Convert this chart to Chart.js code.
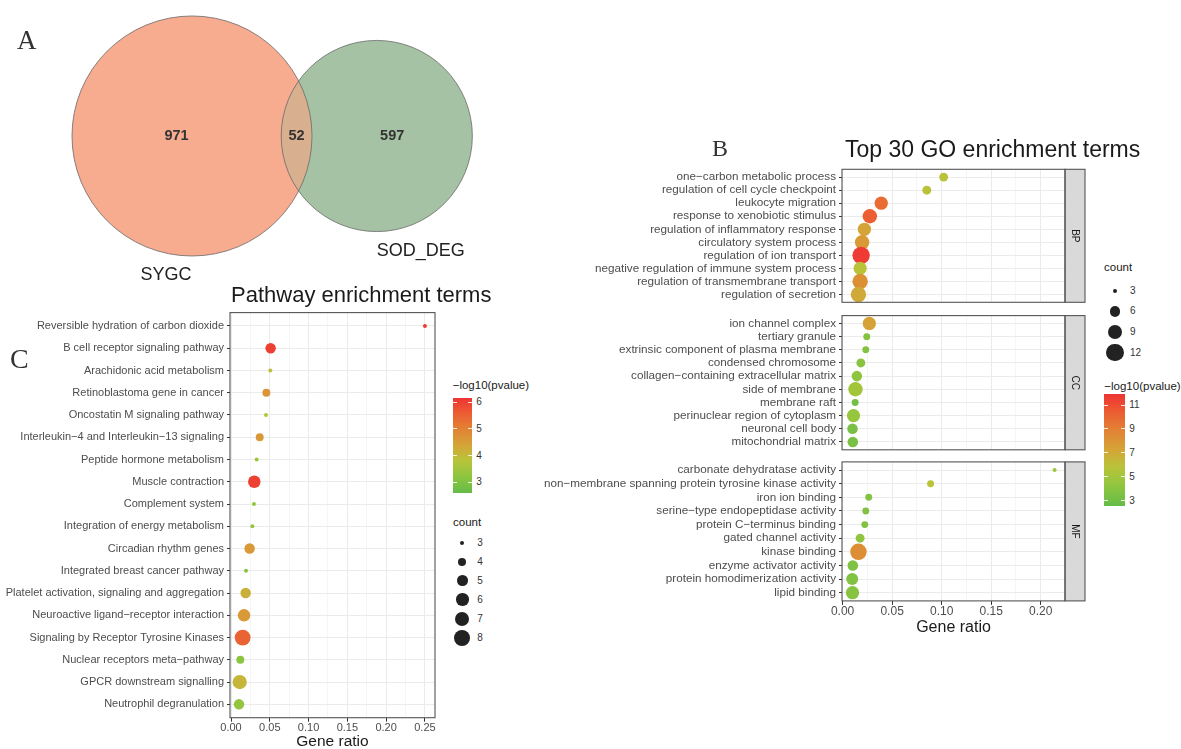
<!DOCTYPE html>
<html>
<head>
<meta charset="utf-8">
<script src="https://cdn.jsdelivr.net/npm/chart.js@4.4.1/dist/chart.umd.min.js"></script>
<style>
  html, body { margin: 0; padding: 0; background: #fff; overflow: hidden; width: 1181px; height: 749px; }
  body { position: relative; font-family: "Liberation Sans", Arial, sans-serif; }
  canvas { position: absolute; }
  .t { position: absolute; line-height: 1; white-space: nowrap; }
  .bar, .dot, .tick { position: absolute; }
</style>
</head>
<body>
<canvas id="venn" width="520" height="290" style="left:0;top:0"></canvas>
<canvas id="bp" width="560" height="151" style="left:530px;top:160px"></canvas>
<canvas id="cc" width="560" height="151" style="left:530px;top:306px"></canvas>
<canvas id="mf" width="560" height="188" style="left:530px;top:452px"></canvas>
<canvas id="pw" width="445" height="460" style="left:0;top:300px"></canvas>

<script>
// ==== Data ====
const vennSets = ["SYGC", "SOD_DEG"];
const vennOnly = [971, 597];
const vennBoth = 52;

const bpTerms = ["one−carbon metabolic process", "regulation of cell cycle checkpoint", "leukocyte migration",
  "response to xenobiotic stimulus", "regulation of inflammatory response", "circulatory system process",
  "regulation of ion transport", "negative regulation of immune system process",
  "regulation of transmembrane transport", "regulation of secretion"];
const bpRatio = [0.102, 0.085, 0.039, 0.0275, 0.022, 0.0197, 0.0187, 0.0177, 0.0177, 0.016];
const bpCount = [5, 5, 8, 9, 8, 9, 12, 8, 10, 10];
const bpLogP = [5.8, 5.8, 9.8, 10.3, 7.3, 7.8, 11.6, 5.9, 8.2, 7.0];

const ccTerms = ["ion channel complex", "tertiary granule", "extrinsic component of plasma membrane",
  "condensed chromosome", "collagen−containing extracellular matrix", "side of membrane", "membrane raft",
  "perinuclear region of cytoplasm", "neuronal cell body", "mitochondrial matrix"];
const ccRatio = [0.027, 0.0244, 0.0234, 0.0184, 0.0144, 0.013, 0.0127, 0.011, 0.010, 0.0103];
const ccCount = [8, 4, 4, 5, 6, 9, 4, 8, 6, 6];
const ccLogP = [7.4, 3.8, 3.8, 4.0, 4.2, 5.0, 3.2, 4.5, 3.4, 3.4];

const mfTerms = ["carbonate dehydratase activity", "non−membrane spanning protein tyrosine kinase activity",
  "iron ion binding", "serine−type endopeptidase activity", "protein C−terminus binding",
  "gated channel activity", "kinase binding", "enzyme activator activity",
  "protein homodimerization activity", "lipid binding"];
const mfRatio = [0.214, 0.0888, 0.0264, 0.0234, 0.0224, 0.0177, 0.016, 0.0103, 0.0097, 0.010];
const mfCount = [3, 4, 4, 4, 4, 5, 11, 6, 7, 8];
const mfLogP = [4.9, 5.9, 3.8, 3.7, 3.7, 4.3, 8.3, 3.6, 3.7, 3.9];

const pwTerms = ["Reversible hydration of carbon dioxide", "B cell receptor signaling pathway",
  "Arachidonic acid metabolism", "Retinoblastoma gene in cancer", "Oncostatin M signaling pathway",
  "Interleukin−4 and Interleukin−13 signaling", "Peptide hormone metabolism", "Muscle contraction",
  "Complement system", "Integration of energy metabolism", "Circadian rhythm genes",
  "Integrated breast cancer pathway", "Platelet activation, signaling and aggregation",
  "Neuroactive ligand−receptor interaction", "Signaling by Receptor Tyrosine Kinases",
  "Nuclear receptors meta−pathway", "GPCR downstream signalling", "Neutrophil degranulation"];
const pwRatio = [0.25, 0.0511, 0.0507, 0.0456, 0.0451, 0.037, 0.0331, 0.030, 0.0296, 0.0275,
  0.024, 0.0193, 0.0189, 0.0168, 0.015, 0.012, 0.0112, 0.0103];
const pwCount = [3, 5, 3, 4, 3, 4, 3, 6, 3, 3, 5, 3, 5, 6, 8, 4, 7, 5];
const pwLogP = [6.1, 6.0, 3.9, 4.7, 3.8, 4.6, 3.4, 6.0, 3.3, 3.3, 4.6, 3.1, 4.2, 4.6, 5.5, 3.2, 4.1, 3.3];

const goXTicks = [0, 0.05, 0.1, 0.15, 0.2];
const pwXTicks = [0, 0.05, 0.1, 0.15, 0.2, 0.25];
const goCountBreaks = [3, 6, 9, 12];
const goLogPBreaks = [3, 5, 7, 9, 11];
const pwCountBreaks = [3, 4, 5, 6, 7, 8];
const pwLogPBreaks = [3, 4, 5, 6];

// ==== Scales for colour and size ====
const SANS = '"Liberation Sans", Arial, sans-serif';
const SERIF = '"Liberation Serif", "Times New Roman", serif';
Chart.defaults.font.family = SANS;

const gradStops = [
  [0, [100, 188, 72]], [0.2, [148, 198, 62]], [0.35, [185, 195, 58]], [0.5, [212, 165, 55]],
  [0.7, [228, 125, 52]], [0.85, [236, 90, 50]], [1, [238, 52, 52]]
];
function gradColor(t) {
  t = Math.max(0, Math.min(1, t));
  for (let i = 1; i < gradStops.length; i++) {
    const [t1, c1] = gradStops[i];
    const [t0, c0] = gradStops[i - 1];
    if (t <= t1) {
      const f = (t - t0) / (t1 - t0);
      return "rgb(" + c0.map((v, k) => Math.round(v + (c1[k] - v) * f)).join(",") + ")";
    }
  }
  return "rgb(238,52,52)";
}
const goCol = { lo: 2.58, hi: 11.9 };
const pwCol = { lo: 2.61, hi: 6.17 };
const goSize = { lo: 3, hi: 12, rmin: 2, rmax: 8.7 };
const pwSize = { lo: 3, hi: 8, rmin: 2, rmax: 7.9 };
function radius(c, s) {
  const t = (c - s.lo) / (s.hi - s.lo);
  return Math.sqrt(s.rmin * s.rmin + t * (s.rmax * s.rmax - s.rmin * s.rmin));
}

// ==== Venn ====
function lensArea(r1, r2, d) {
  if (d >= r1 + r2) return 0;
  if (d <= Math.abs(r1 - r2)) return Math.PI * Math.min(r1, r2) ** 2;
  const a1 = Math.acos((d * d + r1 * r1 - r2 * r2) / (2 * d * r1));
  const a2 = Math.acos((d * d + r2 * r2 - r1 * r1) / (2 * d * r2));
  return r1 * r1 * (a1 - Math.sin(2 * a1) / 2) + r2 * r2 * (a2 - Math.sin(2 * a2) / 2);
}

const vennPlugin = {
  id: "venn",
  afterDatasetsDraw(chart) {
    const { ctx, scales: { x, y } } = chart;
    const r1 = Math.sqrt((vennOnly[0] + vennBoth) / Math.PI);
    const r2 = Math.sqrt((vennOnly[1] + vennBoth) / Math.PI);
    let lo = Math.abs(r1 - r2), hi = r1 + r2;
    for (let i = 0; i < 60; i++) {
      const mid = (lo + hi) / 2;
      if (lensArea(r1, r2, mid) > vennBoth) lo = mid; else hi = mid;
    }
    const d = (lo + hi) / 2;
    const k = x.getPixelForValue(1) - x.getPixelForValue(0);
    const cx1 = x.getPixelForValue(0), cx2 = x.getPixelForValue(d), cy = y.getPixelForValue(0);
    const R1 = r1 * k, R2 = r2 * k;

    ctx.save();
    ctx.beginPath(); ctx.arc(cx1, cy, R1, 0, Math.PI * 2); ctx.fillStyle = "#F7AB8F"; ctx.fill();
    ctx.beginPath(); ctx.arc(cx2, cy, R2, 0, Math.PI * 2); ctx.fillStyle = "#A5C2A5"; ctx.fill();
    ctx.save();
    ctx.beginPath(); ctx.arc(cx1, cy, R1, 0, Math.PI * 2); ctx.clip();
    ctx.beginPath(); ctx.arc(cx2, cy, R2, 0, Math.PI * 2); ctx.fillStyle = "#D8B08F"; ctx.fill();
    ctx.restore();
    ctx.strokeStyle = "#6a6a6a"; ctx.lineWidth = 0.8;
    ctx.beginPath(); ctx.arc(cx1, cy, R1, 0, Math.PI * 2); ctx.stroke();
    ctx.beginPath(); ctx.arc(cx2, cy, R2, 0, Math.PI * 2); ctx.stroke();

    // counts
    ctx.fillStyle = "#333"; ctx.font = "bold 14.5px " + SANS;
    ctx.textAlign = "center"; ctx.textBaseline = "middle";
    ctx.fillText(vennOnly[0], ((cx1 - R1) + (cx2 - R2)) / 2, cy);
    ctx.fillText(vennBoth, ((cx2 - R2) + (cx1 + R1)) / 2, cy);
    ctx.fillText(vennOnly[1], ((cx1 + R1) + (cx2 + R2)) / 2, cy);
    // set names
    ctx.fillStyle = "#222"; ctx.font = "18px " + SANS; ctx.textBaseline = "alphabetic";
    ctx.fillText(vennSets[0], cx1 - 26, cy + R1 + 24);
    ctx.fillText(vennSets[1], cx2 + 44, cy + R2 + 24);
    ctx.restore();
  }
};

new Chart(document.getElementById("venn"), {
  type: "scatter",
  data: { datasets: [{ data: [] }] },
  options: {
    responsive: false, animation: false, events: [],
    layout: { padding: 0 },
    plugins: { legend: { display: false }, tooltip: { enabled: false } },
    scales: {
      x: { type: "linear", display: false, min: -28.87, max: 49.32 },
      y: { type: "linear", display: false, min: -23.16, max: 20.45 }
    }
  },
  plugins: [vennPlugin]
});

// ==== Dot plots ====
const framePlugin = {
  id: "frame",
  afterDraw(chart, args, opts) {
    const { ctx, chartArea: a } = chart;
    ctx.save();
    if (opts.strip) {
      ctx.fillStyle = "#D9D9D9";
      ctx.fillRect(a.right, a.top, 20, a.bottom - a.top);
      ctx.strokeStyle = "#555"; ctx.lineWidth = 1.1;
      ctx.strokeRect(a.right, a.top, 20, a.bottom - a.top);
      ctx.translate(a.right + 10, (a.top + a.bottom) / 2);
      ctx.rotate(Math.PI / 2);
      ctx.fillStyle = "#1A1A1A"; ctx.font = "10px " + SANS;
      ctx.textAlign = "center"; ctx.textBaseline = "middle";
      ctx.fillText(opts.strip, 0, 0);
      ctx.setTransform(1, 0, 0, 1, 0, 0);
    }
    ctx.strokeStyle = "#555"; ctx.lineWidth = 1.1;
    ctx.strokeRect(a.left, a.top, a.right - a.left, a.bottom - a.top);
    ctx.restore();
  }
};

function isMajor(v, ticks) {
  return ticks.some(t => Math.abs(t - v) < 1e-6);
}

function dotChart(id, terms, ratio, count, logp, cfg) {
  const pts = terms.map((t, i) => ({ x: ratio[i], y: i, c: count[i], p: logp[i] }));
  return new Chart(document.getElementById(id), {
    type: "scatter",
    data: {
      datasets: [{
        data: pts,
        pointRadius: c => radius(c.raw.c, cfg.size),
        pointBackgroundColor: c => gradColor((c.raw.p - cfg.col.lo) / (cfg.col.hi - cfg.col.lo)),
        pointBorderWidth: 0
      }]
    },
    options: {
      responsive: false, animation: false, events: [],
      layout: { padding: cfg.pad },
      plugins: { legend: { display: false }, tooltip: { enabled: false }, frame: { strip: cfg.strip } },
      scales: {
        x: {
          type: "linear", min: cfg.xmin, max: cfg.xmax,
          border: { display: false },
          grid: {
            color: c => isMajor(c.tick.value, cfg.xticks) ? "#EBEBEB" : "#F5F5F5",
            tickColor: c => isMajor(c.tick.value, cfg.xticks) ? "#333" : "rgba(0,0,0,0)",
            tickLength: 4, drawTicks: cfg.xaxis
          },
          ticks: {
            display: cfg.xaxis, stepSize: 0.025, includeBounds: false, maxTicksLimit: 100,
            autoSkip: false, maxRotation: 0, padding: 0, color: "#4D4D4D",
            font: { size: cfg.xfont },
            callback: v => isMajor(v, cfg.xticks) ? v.toFixed(2) : ""
          },
          title: {
            display: cfg.xaxis, text: "Gene ratio", color: "#1A1A1A",
            font: { size: cfg.titleFont }, padding: { top: 0, bottom: cfg.titlePad }
          },
          afterFit: s => { s.height = cfg.xh; s.paddingLeft = 0; s.paddingRight = 0; }
        },
        y: {
          type: "linear", reverse: true, min: -0.6, max: terms.length - 1 + 0.6,
          border: { display: false },
          grid: { color: "#EBEBEB", tickColor: "#333", tickLength: 3 },
          ticks: {
            stepSize: 1, includeBounds: false, maxTicksLimit: 100, autoSkip: false,
            padding: 3, color: "#4D4D4D", font: { size: cfg.yfont },
            callback: v => terms[v] ?? ""
          },
          afterFit: s => { s.width = cfg.yw; s.paddingTop = 0; s.paddingBottom = 0; }
        }
      }
    },
    plugins: [framePlugin]
  });
}

const goBase = {
  col: goCol, size: goSize, xmin: -0.0006, xmax: 0.2245, xticks: goXTicks,
  yw: 312, xfont: 12, yfont: 11.7, titleFont: 16, titlePad: 3
};
dotChart("bp", bpTerms, bpRatio, bpCount, bpLogP,
  Object.assign({}, goBase, { pad: { left: 0, right: 25, top: 9.3, bottom: 2.7 }, xaxis: false, xh: 0, strip: "BP" }));
dotChart("cc", ccTerms, ccRatio, ccCount, ccLogP,
  Object.assign({}, goBase, { pad: { left: 0, right: 25, top: 9.6, bottom: 2.4 }, xaxis: false, xh: 0, strip: "CC" }));
dotChart("mf", mfTerms, mfRatio, mfCount, mfLogP,
  Object.assign({}, goBase, { pad: { left: 0, right: 25, top: 9.9, bottom: 0 }, xaxis: true, xh: 39.1, strip: "MF" }));

dotChart("pw", pwTerms, pwRatio, pwCount, pwLogP, {
  col: pwCol, size: pwSize, xmin: -0.0013, xmax: 0.263, xticks: pwXTicks,
  yw: 230, xfont: 11, yfont: 11, titleFont: 15.5, titlePad: 8.5,
  pad: { left: 0, right: 10, top: 12.6, bottom: 0 }, xaxis: true, xh: 42.3
});

// ==== Text and legends ====
function addText(str, x, base, size, o = {}) {
  const el = document.createElement("div");
  el.className = "t";
  el.textContent = str;
  const fam = o.serif ? SERIF : SANS;
  const k = o.serif ? 0.8375 : 0.8465;
  el.style.cssText = `left:${x}px;top:${base - k * size}px;font-size:${size}px;font-family:${fam};` +
    `color:${o.color || "#1A1A1A"};font-weight:${o.weight || "normal"};` +
    (o.center ? "transform:translateX(-50%);" : "");
  document.body.appendChild(el);
}
function addBox(cls, css) {
  const el = document.createElement("div");
  el.className = cls;
  el.style.cssText = css;
  document.body.appendChild(el);
}

addText("A", 17, 49.5, 27, { serif: true, color: "#333" });
addText("B", 712, 155.7, 24, { serif: true, color: "#333" });
addText("C", 10, 368, 28, { serif: true, color: "#333" });
addText("Top 30 GO enrichment terms", 845, 157, 23);
addText("Pathway enrichment terms", 231, 303, 22);

function colorBar(x, top, bottom, w, col, breaks, titleBase) {
  addText("−log10(pvalue)", x, titleBase, 11.5);
  const stops = [];
  for (let i = 0; i <= 20; i++) {
    const v = col.hi - (col.hi - col.lo) * i / 20;
    stops.push(gradColor((v - col.lo) / (col.hi - col.lo)) + " " + (i * 5) + "%");
  }
  addBox("bar", `left:${x}px;top:${top}px;width:${w}px;height:${bottom - top}px;` +
    `background:linear-gradient(to bottom, ${stops.join(",")});`);
  breaks.forEach(b => {
    const yy = top + (col.hi - b) / (col.hi - col.lo) * (bottom - top);
    addBox("tick", `left:${x}px;top:${yy - 0.5}px;width:${w * 0.2}px;height:1px;background:rgba(255,255,255,0.85);`);
    addBox("tick", `left:${x + w * 0.8}px;top:${yy - 0.5}px;width:${w * 0.2}px;height:1px;background:rgba(255,255,255,0.85);`);
    addText(String(b), x + w + 4, yy + 3.5, 10, { color: "#333" });
  });
}
function sizeLegend(x, titleBase, cx, ys, breaks, s) {
  addText("count", x, titleBase, 11.5);
  breaks.forEach((b, i) => {
    const r = radius(b, s);
    addBox("dot", `left:${cx - r}px;top:${ys[i] - r}px;width:${2 * r}px;height:${2 * r}px;` +
      `border-radius:50%;background:#222;`);
    addText(String(b), cx + 15, ys[i] + 3.5, 10, { color: "#333" });
  });
}

sizeLegend(1104, 272, 1115, [291, 311.3, 332, 352.7], goCountBreaks, goSize);
colorBar(1104.3, 394.3, 505.7, 21, goCol, goLogPBreaks, 391);
colorBar(452.7, 397.7, 492.7, 19.6, pwCol, pwLogPBreaks, 390);
sizeLegend(453, 527, 462.3, [542.7, 561.7, 580.7, 599.7, 618.7, 638], pwCountBreaks, pwSize);
</script>
</body>
</html>
